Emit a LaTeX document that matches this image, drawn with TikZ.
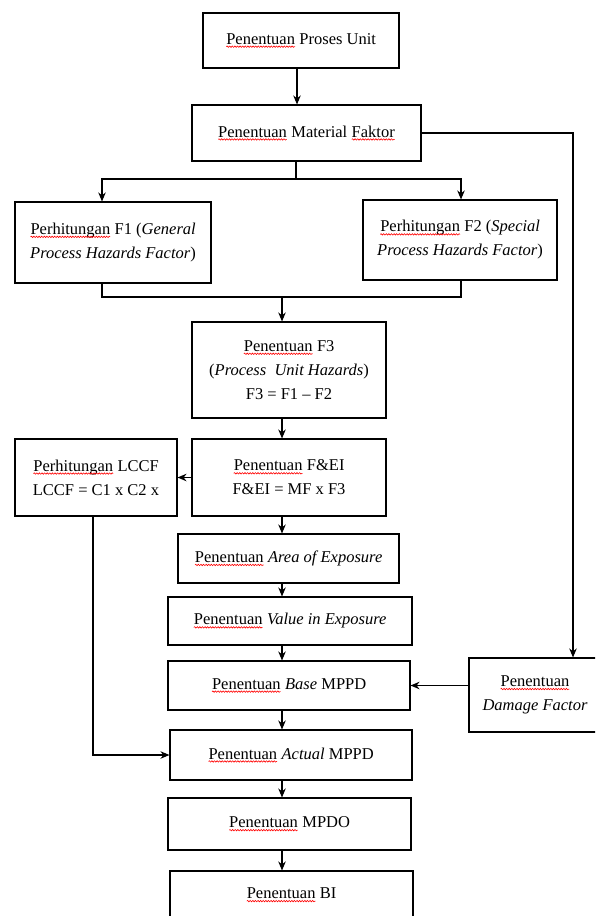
\documentclass[tikz,border=0pt]{standalone}
\usepackage{fontspec}
\setmainfont{Liberation Serif}
\usepackage{xcolor}
\usepackage{tikz}
\usetikzlibrary{calc, positioning, arrows.meta, decorations.pathmorphing}

% garis gelombang merah (koreksi ejaan)
\newcommand{\salah}[1]{\tikz[baseline=(w.base), x=1cm, y=1cm, line width=0.6pt]{%
    \node[draw=none, inner sep=0pt, outer sep=0pt, minimum width=0pt,
          minimum height=0pt, align=left] (w) {#1};
    \draw[red, decorate, decoration={snake, amplitude=0.7pt, segment length=2.6pt}]
        ([yshift=-2.4pt]w.base west) -- ([yshift=-2.4pt]w.base east);}}

\begin{document}
\begin{tikzpicture}[>={Stealth[length=9pt, width=7.5pt]}, x=1pt, y=-1pt, line width=1.1pt,
    kotak/.style={draw, line width=1.1pt, inner sep=2pt, align=center,
        font=\fontsize{16.5}{24}\selectfont}]

    % =================================================================
    % 1. BATAS GAMBAR DAN KOORDINAT BANTU
    % =================================================================
    \useasboundingbox (0,0) rectangle (595,916);
    \clip (0,0) rectangle (595,916);

    \coordinate (atas) at (297,0);
    \coordinate (tulang) at (282,0);
    \coordinate (rel) at (573,0);
    \coordinate (cabang) at (296,179);
    \coordinate (gabung) at (282,297);

    % =================================================================
    % 2. KOTAK-KOTAK PROSES
    % =================================================================
    \node[kotak, minimum width=196, minimum height=55] (unit) at (301,40.5)
        {\salah{Penentuan} Proses Unit};
    \node[kotak, minimum width=229, minimum height=56] (material) at (306.5,133)
        {\salah{Penentuan} Material \salah{Faktor}};
    \node[kotak, minimum width=196, minimum height=81] (f1) at (113,242.5)
        {\salah{Perhitungan} F1 (\textit{General}\\\textit{Process Hazards Factor})};
    \node[kotak, minimum width=194, minimum height=80] (f2) at (460,240)
        {\salah{Perhitungan} F2 (\textit{Special}\\\textit{Process Hazards Factor})};
    \node[kotak, minimum width=194, minimum height=96] (f3) at (289,370)
        {\salah{Penentuan} F3\\(\textit{Process\ \ Unit Hazards})\\F3 = F1 – F2};
    \node[kotak, minimum width=194, minimum height=77] (fei) at (289,477.5)
        {\salah{Penentuan} F\&EI\\F\&EI = MF x F3};
    \node[kotak, minimum width=162, minimum height=77] (lccf) at (96,477.5)
        {\salah{Perhitungan} LCCF\\LCCF = C1 x C2 x};
    \node[kotak, minimum width=221, minimum height=49] (area) at (288.5,558.5)
        {\salah{Penentuan} \textit{Area of Exposure}};
    \node[kotak, minimum width=244, minimum height=48] (value) at (290,621)
        {\salah{Penentuan} \textit{Value in Exposure}};
    \node[kotak, minimum width=242, minimum height=49] (base) at (289,685.5)
        {\salah{Penentuan} \textit{Base} MPPD};
    \node[kotak, minimum width=132, minimum height=74] (damage) at (535,695)
        {\salah{Penentuan}\\\textit{Damage Factor}};
    \node[kotak, minimum width=242, minimum height=50] (actual) at (291,755)
        {\salah{Penentuan} \textit{Actual} MPPD};
    \node[kotak, minimum width=243, minimum height=52] (mpdo) at (289.5,824)
        {\salah{Penentuan} MPDO};
    \node[kotak, minimum width=243, minimum height=48] (bi) at (291.5,895)
        {\salah{Penentuan} BI};

    % =================================================================
    % 3. PANAH PENGHUBUNG
    % =================================================================
    \draw[->] (unit.south -| atas) -- (material.north -| atas);

    % cabang ke F1 dan F2
    \draw (material.south -| cabang) -- (cabang);
    \draw[->] (cabang) -| ([xshift=-11pt]f1.north);
    \draw[->] (cabang) -| ([xshift=1pt]f2.north);

    % gabungan F1 dan F2 ke F3
    \draw ([xshift=-11pt]f1.south) |- (gabung) -| ([xshift=1pt]f2.south);
    \draw[->] (gabung) -- (f3.north -| gabung);

    % jalur utama
    \foreach \a/\b in {f3/fei, fei/area, area/value, value/base,
                       base/actual, actual/mpdo, mpdo/bi}
        \draw[->] (\a.south -| tulang) -- (\b.north -| tulang);

    \draw[->] (fei.west) -- (lccf.east);
    \draw[->] ([xshift=-3pt]lccf.south) |- (actual.west);

    % jalur Damage Factor
    \draw[->] (material.east) -| (rel |- damage.north);
    \draw[->] (damage.west |- base.east) -- (base.east);

\end{tikzpicture}
\end{document}
